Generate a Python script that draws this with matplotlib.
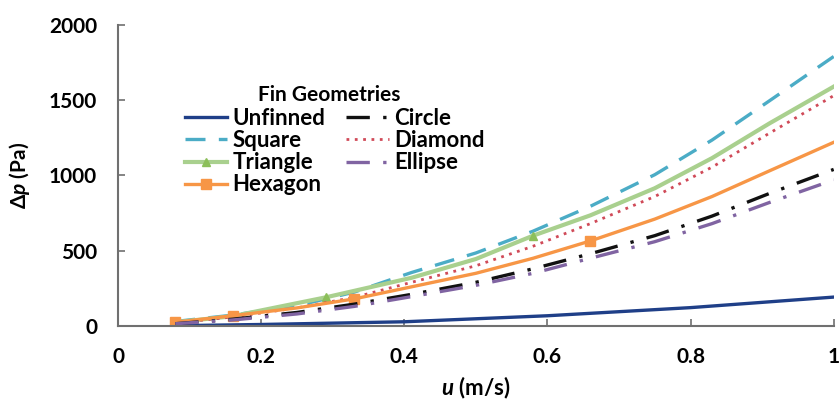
import matplotlib.pyplot as plt

plt.rcParams['font.family'] = ['Lato', 'DejaVu Sans']
plt.rcParams['font.weight'] = 'bold'
plt.rcParams['mathtext.fontset'] = 'custom'
plt.rcParams['mathtext.it'] = 'Lato:italic:bold'
plt.rcParams['mathtext.rm'] = 'Lato:bold'

# Data
u_unf = [0.08, 0.2, 0.4, 0.6, 0.8, 1.0]
dp_unf = [2, 10, 28, 68, 122, 192]

u_sq = [0.08, 0.16, 0.25, 0.33, 0.41, 0.5, 0.58, 0.66, 0.75, 0.83, 0.91, 1.0]
dp_sq = [30, 72, 135, 225, 355, 485, 630, 795, 1005, 1235, 1495, 1790]

u_tri = [0.08, 0.16, 0.29, 0.41, 0.5, 0.58, 0.66, 0.75, 0.83, 0.91, 1.0]
dp_tri = [25, 65, 190, 320, 445, 600, 735, 915, 1115, 1345, 1590]

u_dia = [0.08, 0.16, 0.25, 0.33, 0.41, 0.5, 0.58, 0.66, 0.75, 0.83, 0.91, 1.0]
dp_dia = [20, 60, 120, 190, 290, 400, 530, 680, 860, 1055, 1280, 1530]

u_hex = [0.08, 0.16, 0.25, 0.33, 0.41, 0.5, 0.58, 0.66, 0.75, 0.83, 0.91, 1.0]
dp_hex = [25, 68, 120, 180, 260, 350, 450, 565, 710, 860, 1030, 1220]

u_cir = [0.08, 0.16, 0.25, 0.33, 0.41, 0.5, 0.58, 0.66, 0.75, 0.83, 0.91, 1.0]
dp_cir = [15, 45, 90, 145, 210, 290, 380, 480, 600, 730, 880, 1040]

u_ell = [0.08, 0.16, 0.25, 0.33, 0.41, 0.5, 0.58, 0.66, 0.75, 0.83, 0.91, 1.0]
dp_ell = [15, 40, 80, 130, 195, 270, 350, 450, 560, 680, 820, 970]

fig = plt.figure(figsize=(8.4, 4.08), dpi=100)
ax = fig.add_axes([0.1405, 0.201, 0.852, 0.738])

ax.plot(u_unf, dp_unf, color='#1f3f88', lw=2.4, label='Unfinned')
ax.plot(u_sq, dp_sq, color='#4bacc6', lw=2.4, ls=(0, (6, 4)), label='Square')
ax.plot(u_tri, dp_tri, color='#a9d08e', lw=3.0, marker='^', ms=6,
        mfc='#8cbf5a', mec='#8cbf5a', markevery=[0, 2, 5], label='Triangle')
ax.plot(u_dia, dp_dia, color='#d04a58', lw=2.0, ls=(0, (1, 2)), label='Diamond')
ax.plot(u_hex, dp_hex, color='#f79646', lw=2.4, marker='s', ms=7,
        markevery=[0, 1, 3, 7], label='Hexagon')
ax.plot(u_cir, dp_cir, color='#111111', lw=2.4, ls=(0, (7, 4, 1, 4)), label='Circle')
ax.plot(u_ell, dp_ell, color='#8064a2', lw=2.4, ls=(0, (7, 4, 1, 4)), label='Ellipse')

ax.set_xlim(0, 1)
ax.set_ylim(0, 2000)
ax.set_xticks([0, 0.2, 0.4, 0.6, 0.8, 1])
ax.set_xticklabels(['0', '0.2', '0.4', '0.6', '0.8', '1'])
ax.set_yticks([0, 500, 1000, 1500, 2000])

for s in ['top', 'right']:
    ax.spines[s].set_visible(False)
for s in ['left', 'bottom']:
    ax.spines[s].set_color('#707070')
    ax.spines[s].set_linewidth(1.5)
ax.tick_params(direction='in', length=5, width=1.2, color='#707070',
               labelsize=15, pad=15)

ax.set_xlabel('$u$ (m/s)', fontsize=16, fontweight='bold', labelpad=6)
ax.set_ylabel(r'$\Delta p$ (Pa)', fontsize=15, fontweight='bold', labelpad=12)

handles, labels = ax.get_legend_handles_labels()
order = ['Unfinned', 'Square', 'Triangle', 'Hexagon', 'Circle', 'Diamond', 'Ellipse']
idx = [labels.index(o) for o in order]
leg = ax.legend([handles[i] for i in idx], order, ncol=2, frameon=False,
                fontsize=16, loc='upper left', bbox_to_anchor=(0.065, 0.79),
                handlelength=1.9, handletextpad=0.25, columnspacing=0.95,
                labelspacing=0.05)
ax.text(0.195, 0.768, 'Fin Geometries', transform=ax.transAxes,
        fontsize=15, fontweight='bold', va='center', ha='left')

fig.savefig('out.png', dpi=100)
